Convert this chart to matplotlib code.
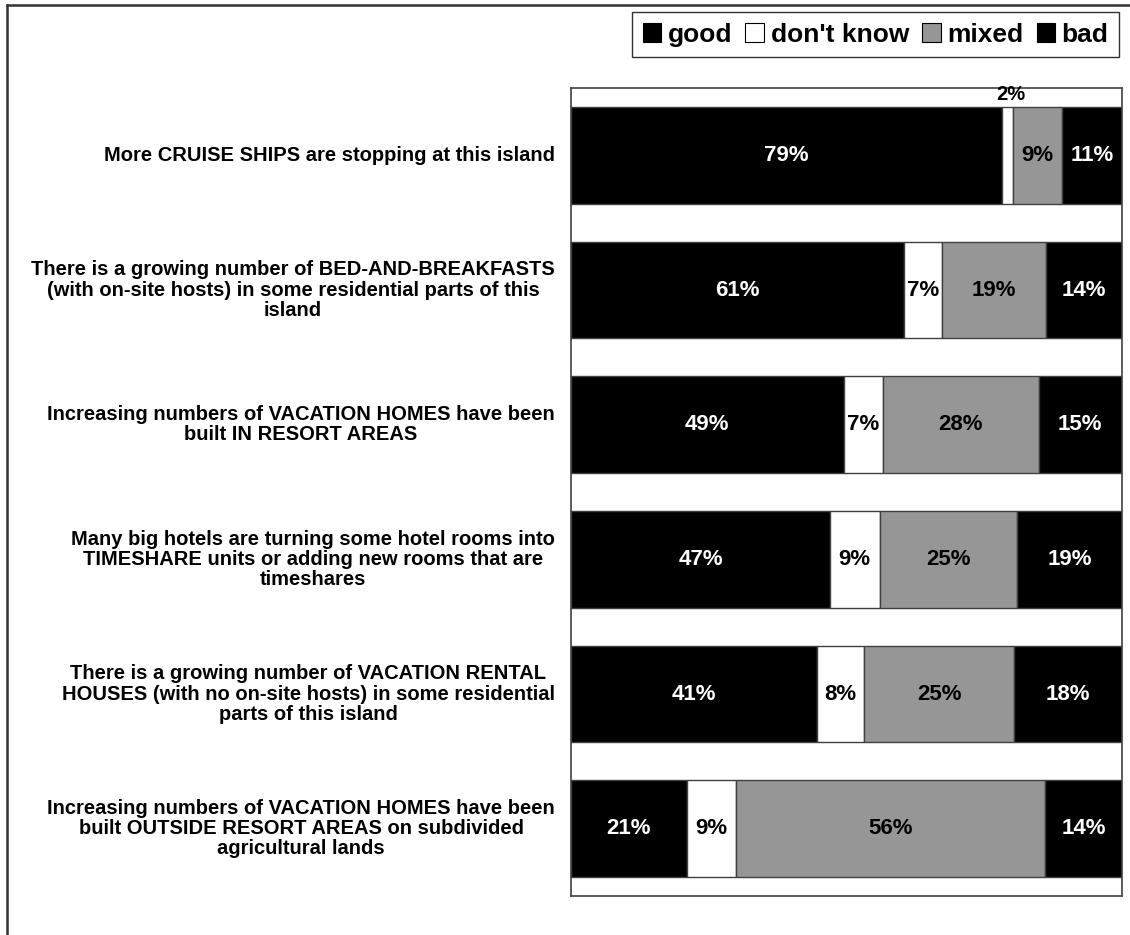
import numpy as np
import matplotlib.pyplot as plt
from matplotlib.patches import Patch
from matplotlib.lines import Line2D

plt.rcParams['font.family'] = ['Liberation Sans', 'DejaVu Sans']
plt.rcParams['font.weight'] = 'bold'

# survey statements, top to bottom
statements = [
    'More CRUISE SHIPS are stopping at this island',
    'There is a growing number of BED-AND-BREAKFASTS\n(with on-site hosts) in some residential parts of this\nisland',
    'Increasing numbers of VACATION HOMES have been\nbuilt IN RESORT AREAS',
    'Many big hotels are turning some hotel rooms into\nTIMESHARE units or adding new rooms that are\ntimeshares',
    'There is a growing number of VACATION RENTAL\nHOUSES (with no on-site hosts) in some residential\nparts of this island',
    'Increasing numbers of VACATION HOMES have been\nbuilt OUTSIDE RESORT AREAS on subdivided\nagricultural lands',
]
good = [79, 61, 49, 47, 41, 21]
dont_know = [2, 7, 7, 9, 8, 9]
mixed = [9, 19, 28, 25, 25, 56]
bad = [11, 14, 15, 19, 18, 14]

series = ['good', "don't know", 'mixed', 'bad']
colors = ['black', 'white', '#969696', 'black']
text_colors = ['white', 'black', 'black', 'white']

values = np.array([good, dont_know, mixed, bad], dtype=float)
# 100% stacked: each row scaled to its own total
shares = values / values.sum(axis=0) * 100

W, H = 1130, 935
fig = plt.figure(figsize=(W / 100, H / 100), dpi=100)
ax = fig.add_axes([571 / W, 1 - 896 / H, 551 / W, 808 / H])

y = np.arange(len(statements))
left = np.zeros(len(statements))
for i, name in enumerate(series):
    ax.barh(y, shares[i], left=left, height=0.72, color=colors[i],
            edgecolor='#404040', linewidth=1)
    for j in range(len(y)):
        lab = f'{values[i, j]:.0f}%'
        cx = left[j] + shares[i, j] / 2
        if shares[i, j] < 4:
            # too thin for the label, put it above the bar
            ax.text(cx + 0.6, y[j] - 0.455, lab, ha='center', va='center',
                    color='black', fontsize=14.5)
        else:
            ax.text(cx, y[j], lab, ha='center', va='center',
                    color=text_colors[i], fontsize=16)
    left += shares[i]

ax.set_xlim(0, 100)
ax.set_ylim(len(y) - 0.5, -0.5)
ax.set_xticks([])
ax.set_yticks([])
for sp in ax.spines.values():
    sp.set_color('#404040')
    sp.set_linewidth(1.2)

for j, s in enumerate(statements):
    ax.text(-16 / 551, y[j], s, transform=ax.get_yaxis_transform(),
            ha='right', va='center', multialignment='center',
            fontsize=14.5, linespacing=1.08)

handles = [Patch(facecolor=c, edgecolor='black', linewidth=0.8) for c in colors]
leg = fig.legend(handles, series, loc='upper right', ncol=4,
                 bbox_to_anchor=(1119 / W, 1 - 12 / H), frameon=True,
                 fancybox=False, edgecolor='black', fontsize=19,
                 handlelength=0.7, handleheight=0.7, handletextpad=0.25,
                 columnspacing=0.5, borderpad=0.4, borderaxespad=0)
leg.get_frame().set_linewidth(1.0)

# outer chart frame (top and left edges)
fig.add_artist(Line2D([7 / W, 1], [1 - 5 / H, 1 - 5 / H], transform=fig.transFigure,
                      color='#333333', linewidth=1.8))
fig.add_artist(Line2D([7 / W, 7 / W], [0, 1 - 5 / H], transform=fig.transFigure,
                      color='#333333', linewidth=1.8))

fig.savefig('out.png', dpi=100)
